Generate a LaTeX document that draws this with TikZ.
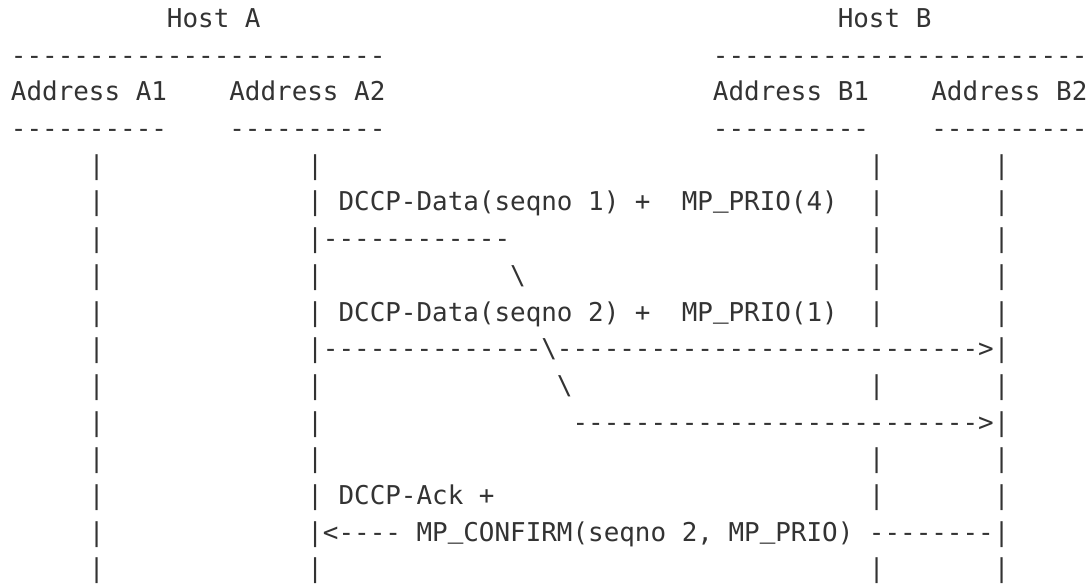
\documentclass[tikz,border=0pt]{standalone}
\usepackage{fontspec}
\setmonofont{DejaVu Sans Mono}
\newfontfamily\usfont{Liberation Mono}
\usepackage{tikz}

\definecolor{inkgray}{HTML}{333333}
% underscore in one character cell
\newcommand\us{\makebox[0.6021em][c]{\usfont\char"5F}}
\tikzset{ascii/.style={anchor=base west, inner sep=0pt, outer sep=0pt,
    font=\fontsize{10}{12}\selectfont\ttfamily\frenchspacing, text=inkgray}}

\begin{document}
\begin{tikzpicture}[x=6.0205pt, y=14.16pt]
      % one column = one character, one row = one line
      \fill[white] (-0.705,-0.5) rectangle (69.04,-16.5);
      \useasboundingbox (-0.705,-0.5) rectangle (69.04,-16.5);
      % hosts
      \node[ascii] (hostA) at (10,-1.25) {Host A};
      \node[ascii] (hostB) at (53,-1.25) {Host B};
      \node[ascii] (ruleA) at (0,-2.25)  {------------------------};
      \node[ascii] (ruleB) at (45,-2.25) {------------------------};
      % addresses
      \node[ascii] (addrA1) at (0,-3.25)  {Address A1};
      \node[ascii] (addrA2) at (14,-3.25) {Address A2};
      \node[ascii] (addrB1) at (45,-3.25) {Address B1};
      \node[ascii] (addrB2) at (59,-3.25) {Address B2};
      \node[ascii] (ruleA1) at (0,-4.25)  {----------};
      \node[ascii] (ruleA2) at (14,-4.25) {----------};
      \node[ascii] (ruleB1) at (45,-4.25) {----------};
      \node[ascii] (ruleB2) at (59,-4.25) {----------};
      % routine for the bars below each address
      \foreach \r in {5,...,16} {
        \node[ascii] (barA1\r) at (5,-\r-0.25)  {|};
        \node[ascii] (barA2\r) at (19,-\r-0.25) {|};
        \node[ascii] (barB2\r) at (63,-\r-0.25) {|};
      }
      \foreach \r in {5,6,7,8,9,11,13,14,16}
        \node[ascii] (barB1\r) at (55,-\r-0.25) {|};
      % first packet
      \node[ascii] (data1) at (21,-6.25) {DCCP-Data(seqno 1) +};
      \node[ascii] (prio4) at (43,-6.25) {MP\us PRIO(4)};
      \node[ascii] (send1) at (20,-7.25) {------------};
      \node[ascii] (bend1) at (32,-8.25) {\textbackslash};
      % second packet
      \node[ascii] (data2) at (21,-9.25) {DCCP-Data(seqno 2) +};
      \node[ascii] (prio1) at (43,-9.25) {MP\us PRIO(1)};
      \node[ascii] (send2) at (20,-10.25) {--------------};
      \node[ascii] (cross) at (34,-10.25) {\textbackslash};
      \node[ascii] (recv2) at (35,-10.25) {--------------------------->};
      \node[ascii] (bend2) at (35,-11.25) {\textbackslash};
      \node[ascii] (recv1) at (36,-12.25) {-------------------------->};
      % acknowledgement
      \node[ascii] (ack)     at (21,-14.25) {DCCP-Ack +};
      \node[ascii] (ackhead) at (20,-15.25) {<----};
      \node[ascii] (confirm) at (26,-15.25) {MP\us CONFIRM(seqno 2, MP\us PRIO)};
      \node[ascii] (acktail) at (55,-15.25) {--------};
\end{tikzpicture}
\end{document}
